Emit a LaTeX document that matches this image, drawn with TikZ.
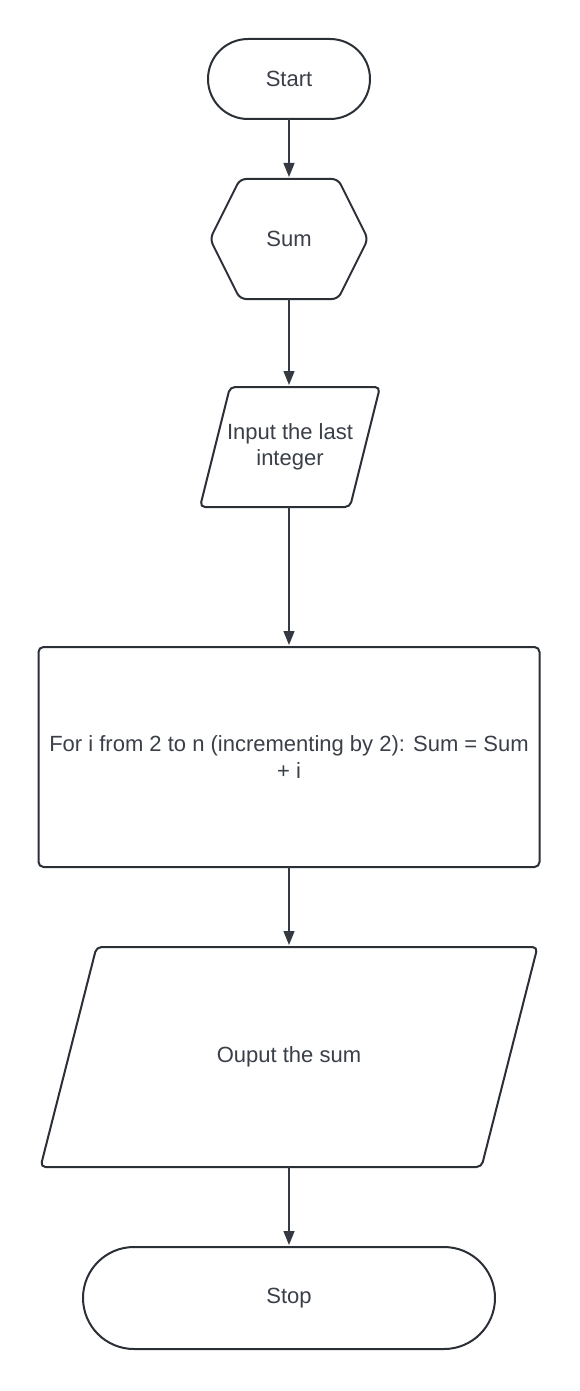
\documentclass[tikz,border=0pt]{standalone}
\usepackage{fontspec}
\setmainfont{Liberation Sans}
\usetikzlibrary{arrows.meta}
\definecolor{linec}{HTML}{2B2F36}
\definecolor{textc}{HTML}{3A3F48}
\definecolor{connc}{HTML}{353A42}
\tikzset{
  box/.style={inner sep=0pt, outer sep=0pt, align=center, text=textc,
    font=\fontsize{22}{26.5}\selectfont},
  outline/.style={draw=linec, line width=2pt, line join=round},
  conn/.style={draw=connc, line width=1.4pt,
    -{Triangle[width=11pt,length=14pt]}, shorten >=2pt},
}
\begin{document}
\begin{tikzpicture}[x=1pt,y=-1pt]
\useasboundingbox (0,0) rectangle (580,1391);
\fill[white] (0,0) rectangle (580,1391);

% nodes
\node[box, minimum width=162pt, minimum height=80pt] (start) at (289,79) {Start};
\node[box, minimum width=158pt, minimum height=120pt] (sum) at (289,239) {Sum};
\node[box, minimum width=180pt, minimum height=120pt] (inp) at (290,447) {Input the last\\integer};
\node[box, minimum width=501pt, minimum height=220pt] (loop) at (289,757) {For i from 2 to n (incrementing by 2): Sum = Sum\\+ i};
\node[box, minimum width=497pt, minimum height=220pt] (out) at (289,1057) {Ouput the sum};
\node[box, minimum width=412pt, minimum height=102pt] (stop) at (289,1298) {Stop};

% outlines
\draw[outline, rounded corners=40pt] (start.north west) rectangle (start.south east);
\draw[outline, rounded corners=6pt]
  ([xshift=30pt]sum.north west) -- ([xshift=-30pt]sum.north east) -- (sum.east)
  -- ([xshift=-30pt]sum.south east) -- ([xshift=30pt]sum.south west) -- (sum.west) -- cycle;
\draw[outline, rounded corners=5pt]
  ([xshift=30pt]inp.north west) -- (inp.north east)
  -- ([xshift=-30pt]inp.south east) -- (inp.south west) -- cycle;
\draw[outline, rounded corners=5pt] (loop.north west) rectangle (loop.south east);
\draw[outline, rounded corners=5pt]
  ([xshift=56pt]out.north west) -- (out.north east)
  -- ([xshift=-56pt]out.south east) -- (out.south west) -- cycle;
\draw[outline, rounded corners=51pt] (stop.north west) rectangle (stop.south east);

% connectors
\draw[conn] (start.south) -- (sum.north);
\draw[conn] (sum.south) -- (sum.south |- inp.north);
\draw[conn] (sum.south |- inp.south) -- (loop.north);
\draw[conn] (loop.south) -- (out.north);
\draw[conn] (out.south) -- (stop.north);
\end{tikzpicture}
\end{document}
